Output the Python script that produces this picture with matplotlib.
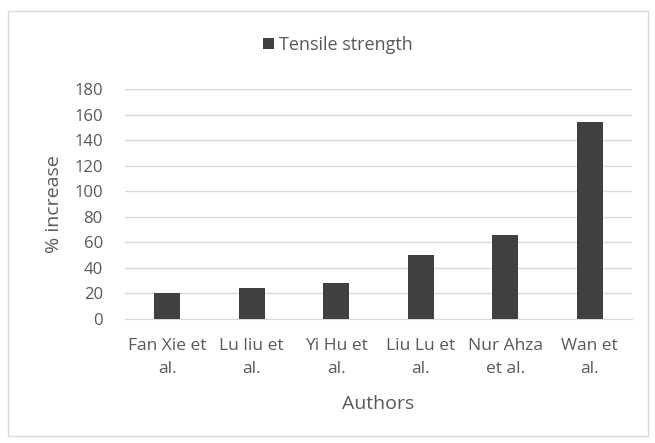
import matplotlib.pyplot as plt
from matplotlib.patches import Rectangle

# data
authors = ["Fan Xie et\nal.", "Lu liu et\nal.", "Yi Hu et\nal.",
           "Liu Lu et\nal.", "Nur Ahza\net al.", "Wan et\nal."]
tensile = [20, 24, 28, 50, 66, 154]
yticks = [0, 20, 40, 60, 80, 100, 120, 140, 160, 180]

plt.rcParams['font.family'] = ['Open Sans', 'DejaVu Sans']
text_col = '#595959'
grid_col = '#d9d9d9'

fig = plt.figure(figsize=(6.55, 4.43), dpi=100)
ax = fig.add_axes([125 / 655, 1 - 319 / 443, 507 / 655, (319 - 89.3) / 443])

# chart border
fig.patches.append(Rectangle((8 / 655, 1 - 436 / 443), 640 / 655, 425 / 443,
                             transform=fig.transFigure, fill=False,
                             edgecolor='#d9d9d9', linewidth=1))

x = range(len(authors))
ax.bar(x, tensile, width=0.31, color='#404040', label='Tensile strength',
       zorder=3)

ax.set_xlim(-0.5, len(authors) - 0.5)
ax.set_ylim(0, 180)
ax.set_yticks(yticks)
ax.set_xticks(list(x))
ax.set_xticklabels(authors, fontsize=12.5, color=text_col, linespacing=1.55)
ax.tick_params(axis='y', labelsize=12, labelcolor=text_col, length=0, pad=16)
ax.tick_params(axis='x', length=0, pad=14)
ax.yaxis.grid(True, color=grid_col, linewidth=1)
for s in ax.spines.values():
    s.set_visible(False)
ax.spines['bottom'].set_visible(True)
ax.spines['bottom'].set_color(grid_col)

ax.set_ylabel('% increase', fontsize=14, color=text_col, labelpad=8)
ax.set_xlabel('Authors', fontsize=14, color=text_col, labelpad=13)

fig.legend(loc='center', bbox_to_anchor=(338 / 655, 1 - 45 / 443),
           frameon=False, fontsize=13, labelcolor=text_col,
           handlelength=0.6, handleheight=0.6, handletextpad=0.25)

fig.savefig('out.png', dpi=100)
